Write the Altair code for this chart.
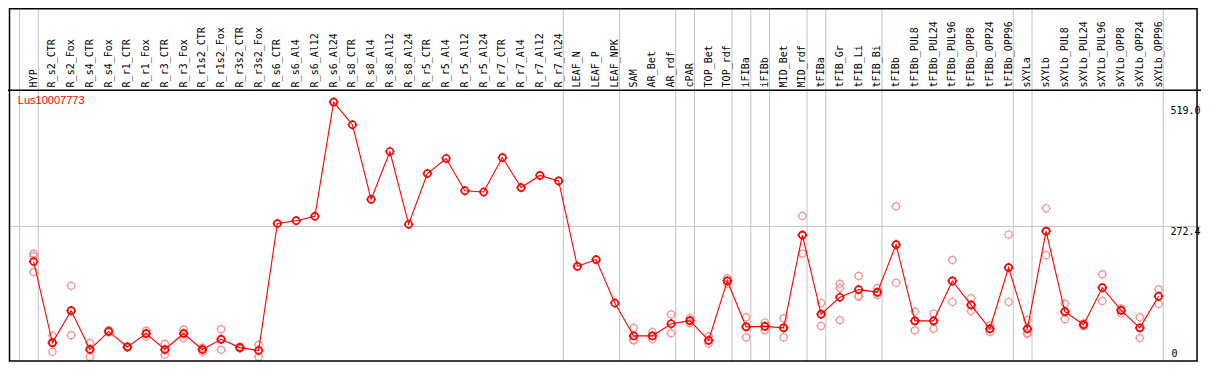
import altair as alt
import pandas as pd

# ---------------- data ----------------
categories = [
    "HYP", "R_s2_CTR", "R_s2_Fox", "R_s4_CTR", "R_s4_Fox", "R_r1_CTR", "R_r1_Fox",
    "R_r3_CTR", "R_r3_Fox", "R_r1s2_CTR", "R_r1s2_Fox", "R_r3s2_CTR", "R_r3s2_Fox",
    "R_s6_CTR", "R_s6_Al4", "R_s6_Al12", "R_s6_Al24", "R_s8_CTR", "R_s8_Al4",
    "R_s8_Al12", "R_s8_Al24", "R_r5_CTR", "R_r5_Al4", "R_r5_Al12", "R_r5_Al24",
    "R_r7_CTR", "R_r7_Al4", "R_r7_Al12", "R_r7_Al24", "LEAF_N", "LEAF_P", "LEAF_NPK",
    "SAM", "AR_Bet", "AR_rdf", "cPAR", "TOP_Bet", "TOP_rdf", "iFIBa", "iFIBb",
    "MID_Bet", "MID_rdf", "tFIBa", "tFIB_Gr", "tFIB_Li", "tFIB_Bi", "tFIBb",
    "tFIBb_PUL8", "tFIBb_PUL24", "tFIBb_PUL96", "tFIBb_OPP8", "tFIBb_OPP24",
    "tFIBb_OPP96", "sXYLa", "sXYLb", "sXYLb_PUL8", "sXYLb_PUL24", "sXYLb_PUL96",
    "sXYLb_OPP8", "sXYLb_OPP24", "sXYLb_OPP96",
]

means = [
    200.9, 35.1, 100.8, 21.5, 58.5, 26.7, 54.0, 21.5, 54.0, 21.5, 42.3, 25.4, 19.5,
    278.3, 284.1, 293.1, 525.9, 479.7, 327.6, 425.1, 276.9, 380.3, 410.9, 345.2, 342.6,
    412.8, 351.6, 376.4, 365.2, 191.1, 204.8, 116.4,
    49.3, 49.3, 74.1, 80.5, 40.4, 161.3, 67.7, 68.8, 65.7, 254.9, 93.6, 128.1, 143.7,
    138.5, 235.4, 80.0, 80.0, 161.3, 112.5, 63.8, 188.6, 63.8, 262.7, 98.9, 72.2,
    147.6, 101.4, 65.7, 130.1,
]

N = None
rep1 = [
    217.0, 50.1, 151.5, 35.1, 61.0, 28.3, 59.9, 33.2, 62.4, 25.4, 63.0, 27.3, 31.2,
    N, N, N, N, N, N, N, N, N, N, N, N, N, N, N, N, N, N, N,
    65.7, 57.1, 93.0, 85.8, 48.2, 167.1, 87.2, 76.6, 85.2, 293.9, 116.4, 155.4, 171.6,
    146.8, 313.4, 98.9, 95.0, 204.2, 126.2, 70.8, 256.0, 81.9, 309.5, 115.1, 75.1,
    174.9, 105.3, 87.2, 144.3,
]
rep2 = [
    212.0, 37.1, 100.2, 23.4, 57.5, 26.3, 54.6, 20.5, 54.6, 22.4, 42.9, 25.4, 20.5,
    N, N, N, N, N, N, N, N, N, N, N, N, N, N, N, N, N, N, N,
    41.5, 49.3, 74.1, 80.5, 39.0, 161.3, 68.3, 68.8, 65.7, 254.9, 93.6, 146.8, 129.3,
    136.5, 235.4, 80.0, 80.0, 161.3, 112.5, 63.8, 188.6, 55.2, 262.7, 98.9, 72.2,
    147.6, 101.4, 65.7, 130.1,
]
rep3 = [
    179.4, 17.0, 50.7, 6.4, 56.6, 25.4, 47.8, 11.1, 44.9, 17.0, 20.9, 23.4, 6.4,
    N, N, N, N, N, N, N, N, N, N, N, N, N, N, N, N, N, N, N,
    40.0, 42.9, 54.6, 75.5, 33.7, 155.4, 46.2, 61.0, 46.2, 217.0, 69.6, 81.3, 130.7,
    132.6, 157.4, 60.5, 63.8, 118.4, 100.0, 57.1, 118.4, 53.6, 213.9, 83.3, 69.2,
    120.3, 95.0, 44.9, 114.5,
]

# sizes of the tissue groups, separated by vertical grey lines
group_sizes = [1, 28, 3, 3, 1, 2, 1, 1, 2, 1, 3, 7, 1, 7]

axis_values = [519.0, 272.4, 0.0]
axis_texts = ["519.0", "272.4", "0"]
gene_title = "Lus10007773"

# ---------------- layout ----------------
W, H = 1193, 354
SX, SY = W / 1209.0, H / 370.0

mean_df = pd.DataFrame({"idx": list(range(len(categories))), "name": categories, "mean": means})
rows = []
for i, c in enumerate(categories):
    for r in (rep1[i], rep2[i], rep3[i]):
        if r is not None:
            rows.append({"idx": i, "name": c, "rep": r})
rep_df = pd.DataFrame(rows)

bounds = [-1]
for g in group_sizes:
    bounds.append(bounds[-1] + g)
sep_df = pd.DataFrame({"b": bounds})

ax_df = pd.DataFrame({"v": axis_values, "t": axis_texts})
one = pd.DataFrame({"a": [0]})

xs = alt.Scale(domain=[-26 / 19, 1183 / 19], nice=False, zero=False)
ys = alt.Scale(domain=[-2 / 0.5128, 368 / 0.5128], nice=False, zero=False)

marker = ("M1,0A1,1,0,1,1,-1,0A1,1,0,1,1,1,0"
          "M0,-1L0,-1.35M0,1L0,1.35M-1,0L-1.35,0M1,0L1.35,0")

seps = alt.Chart(sep_df).transform_calculate(pos="datum.b + 0.25").mark_rule(
    color="#c4c4c4", strokeWidth=1
).encode(x=alt.X("pos:Q", scale=xs, axis=None), y=alt.value(0), y2=alt.value(H))

hgrid = alt.Chart(ax_df).transform_filter("datum.v > 100 && datum.v < 400").mark_rule(
    color="#c4c4c4", strokeWidth=1
).encode(y=alt.Y("v:Q", scale=ys, axis=None), x=alt.value(0), x2=alt.value(W))

ylab_top = alt.Chart(ax_df).transform_filter("datum.v > 0").mark_text(
    align="left", baseline="top", dy=1, font="DejaVu Sans Mono", fontSize=10, color="black"
).encode(y=alt.Y("v:Q", scale=ys, axis=None), x=alt.value(1178 * SX), text="t:N")

ylab_zero = alt.Chart(ax_df).transform_filter("datum.v == 0").mark_text(
    align="left", baseline="bottom", dy=-1, font="DejaVu Sans Mono", fontSize=10, color="black"
).encode(y=alt.Y("v:Q", scale=ys, axis=None), x=alt.value(1179 * SX), text="t:N")

reps = alt.Chart(rep_df).mark_point(
    shape=marker, size=49, filled=False, color="#f29494", strokeWidth=1.2, opacity=1
).encode(x=alt.X("idx:Q", scale=xs, axis=None), y=alt.Y("rep:Q", scale=ys, axis=None))

line = alt.Chart(mean_df).mark_line(color="#ff0000", strokeWidth=1.1).encode(
    x=alt.X("idx:Q", scale=xs, axis=None), y=alt.Y("mean:Q", scale=ys, axis=None)
)

pts = alt.Chart(mean_df).mark_point(
    shape=marker, size=49, filled=False, color="#ff0000", strokeWidth=1.7, opacity=1
).encode(x=alt.X("idx:Q", scale=xs, axis=None), y=alt.Y("mean:Q", scale=ys, axis=None))

header = alt.Chart(mean_df).mark_text(
    angle=270, align="left", baseline="middle", font="DejaVu Sans Mono", fontSize=10,
    color="black"
).encode(x=alt.X("idx:Q", scale=xs, axis=None), y=alt.value(83 * SY), text="name:N")

header_line = alt.Chart(one).mark_rule(color="black", strokeWidth=1.5).encode(
    x=alt.value(0), x2=alt.value(W), y=alt.value(86 * SY)
)

frame = alt.Chart(one).mark_rect(fill=None, stroke="black", strokeWidth=1.5).encode(
    x=alt.value(1.5), x2=alt.value(1205 * SX), y=alt.value(0.75), y2=alt.value(369 * SY)
)

title = alt.Chart(pd.DataFrame({"t": [gene_title]})).mark_text(
    align="left", baseline="middle", font="Liberation Sans", fontSize=11, color="#ff0000"
).encode(x=alt.value(10 * SX), y=alt.value(97 * SY), text="t:N")

chart = alt.layer(
    seps, hgrid, ylab_top, ylab_zero, reps, line, pts, header, header_line, frame, title
).properties(
    width=W, height=H, autosize=alt.AutoSizeParams(type="none"), padding=0
).configure_view(stroke=None)

chart.save("out.html", embed_options={"renderer": "svg", "actions": False})
